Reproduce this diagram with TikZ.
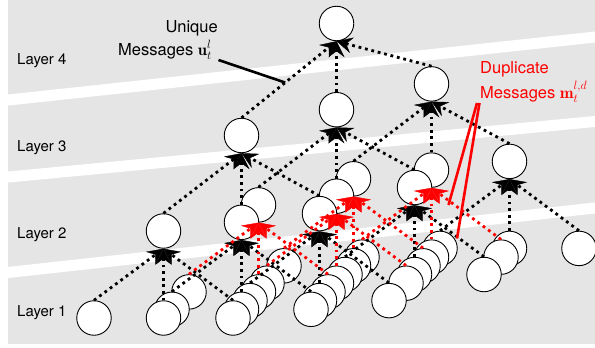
\documentclass[tikz,border=0pt]{standalone}
\usepackage{fontspec}
\usepackage{amsmath}
\usetikzlibrary{arrows.meta,calc}
\newfontfamily\hvfont{TeX Gyre Heros}
\definecolor{panel}{gray}{0.898}
\definecolor{dupred}{RGB}{255,0,0}

\begin{document}
\begin{tikzpicture}[x=1pt,y=-1pt,
  unit/.style={circle,draw=black,line width=0.9pt,fill=white,minimum size=34.5pt,inner sep=0pt},
  msg/.style={line width=2.8pt,dash pattern=on 2.8pt off 3.8pt,
    -{Stealth[length=16pt,width=16pt,inset=6pt,line width=0.4pt]}},
  lbl/.style={font=\hvfont\fontsize{15}{18}\selectfont,inner sep=0pt},
  note/.style={font=\hvfont\fontsize{16.5}{20}\selectfont,inner sep=0pt},
  band/.style={white,line width=11pt}]

\useasboundingbox (0,0) rectangle (595,348);

% grey panel split into layers by white bands
\fill[panel] (8,0) rectangle (595,344);
\begin{scope}
  \clip (8,0) rectangle (595,344);
  \draw[band] (0,100.9) -- (600,36.5);
  \draw[band] (0,177.8) -- (600,121.0);
  \draw[band] (0,273.4) -- (600,207.4);
\end{scope}

% layer names
\node[lbl,anchor=base west] (l4) at (17,64.5) {Layer 4};
\node[lbl,anchor=base west] (l3) at (17,151) {Layer 3};
\node[lbl,anchor=base west] (l2) at (17,238) {Layer 2};
\node[lbl,anchor=base west] (l1) at (17,316) {Layer 1};

% layer 1: 27 units, drawn back to front
\foreach \j in {2,1,0}{
  \foreach \i in {2,1,0}{
    \foreach \k in {0,1,2}{
      \node[unit] (d-\i-\j-\k) at ({94+69.5*(\i+\j+\k)+8.5*(\i+3*\j)},{318-8.7*(\i+3*\j)}) {};
    }}}

% layer 2: 9 units
\foreach \j in {2,1,0}{
  \foreach \i in {2,1,0}{
    \node[unit] (c-\i-\j) at ({163.5+78*\i+95*\j},{231-8.7*\i-26.1*\j}) {};
  }}

% layer 3 and layer 4
\foreach \j in {2,1,0}{
  \node[unit] (b-\j) at ({241.5+95*\j},{135.5-25.8*\j}) {};
}
\node[unit] (a) at (336.5,23.5) {};

% messages from layer 1 to layer 2
\foreach \i/\j in {0/0,1/0,2/0,2/1,2/2}{
  \foreach \k in {0,1,2}{
    \draw[msg] (d-\i-\j-\k.north) -- (c-\i-\j.south);
  }}
\foreach \i/\j in {0/1,1/1,0/2,1/2}{
  \foreach \k in {0,1,2}{
    \draw[msg,dupred] (d-\i-\j-\k.north) -- (c-\i-\j.south);
  }}

% messages from layer 2 to layer 3
\foreach \i in {0,1,2}{
  \foreach \j in {0,1,2}{
    \draw[msg] (c-\i-\j.north) -- (b-\j.south);
  }}

% messages from layer 3 to layer 4
\foreach \j in {0,1,2}{
  \draw[msg] (b-\j.north) -- (a.south);
}

% callouts
\node[note,anchor=base east] (uq1) at (218,32.5) {Unique};
\node[note,anchor=base west] (uq2) at (118,55) {Messages $\mathbf{u}_t^l$};
\coordinate (uqa) at (218.5,60);
\coordinate (uqb) at ($(b-0.north)!0.46!(a.south)$);
\draw[line width=2.6pt] (uqa) -- (uqb);

\node[note,text=dupred,anchor=base west] (dp1) at (480,73.5) {Duplicate};
\node[note,text=dupred,anchor=base west] (dp2) at (480,98) {Messages $\mathbf{m}_t^{l,d}$};
\coordinate (dpa) at (477,103);
\coordinate (dpb) at (479.5,103);
\coordinate (dpc) at (448.5,205);
\coordinate (dpd) at (457,238.5);
\draw[dupred,line width=2.6pt] (dpa) -- (dpc);
\draw[dupred,line width=2.6pt] (dpb) -- (dpd);
\end{tikzpicture}
\end{document}
